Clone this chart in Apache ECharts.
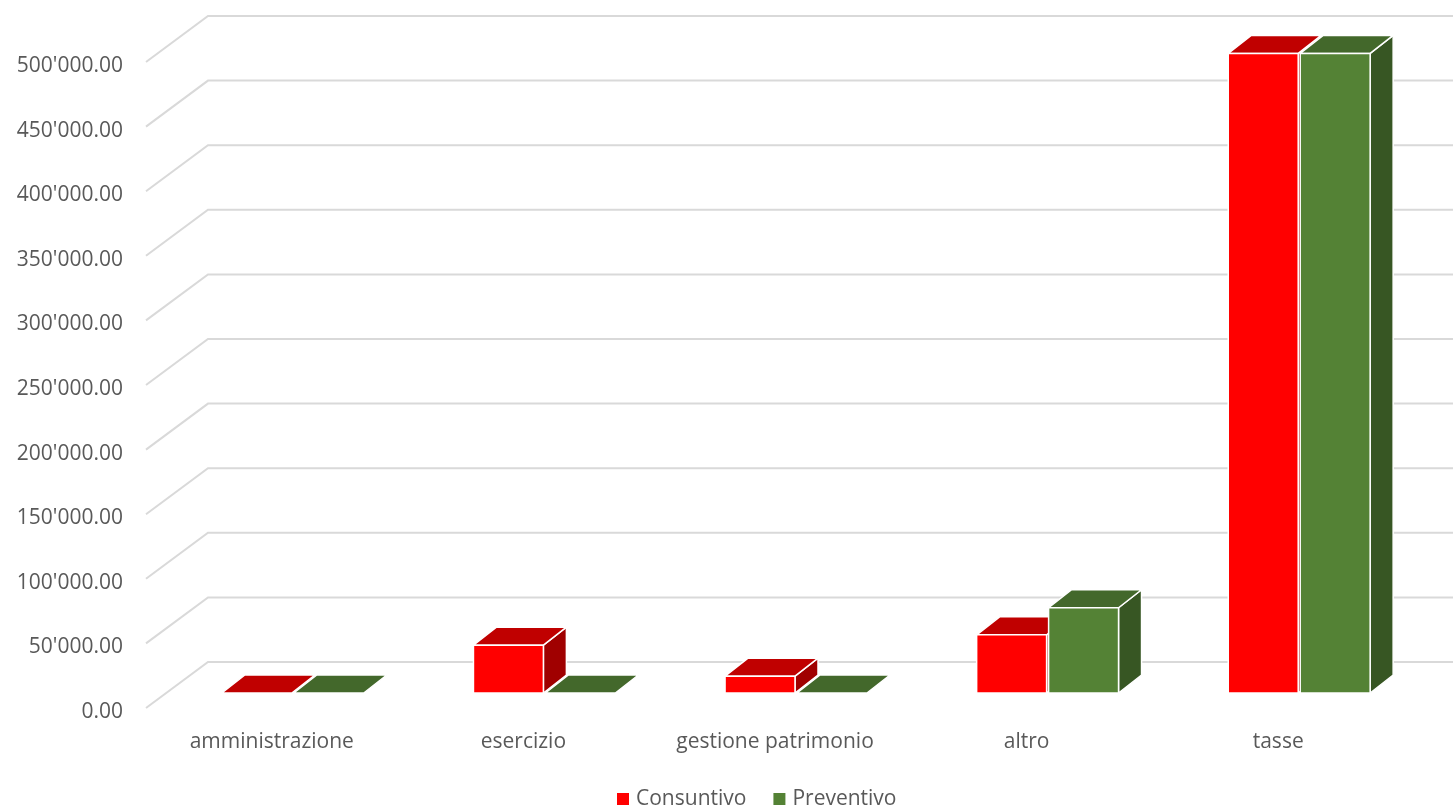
<!DOCTYPE html>
<html>
<head>
<meta charset="utf-8">
<script src="https://cdn.jsdelivr.net/npm/echarts@6/dist/echarts.min.js"></script>
<style>
  html, body { margin: 0; padding: 0; background: #ffffff; }
  #chart { width: 1453px; height: 810px; }
</style>
</head>
<body>
<div id="chart"></div>
<script>
// Categories and values
const categories = ['amministrazione', 'esercizio', 'gestione patrimonio', 'altro', 'tasse'];
const consuntivo = [0, 37000, 13000, 45000, 495000];
const preventivo = [0, 0, 0, 66000, 495000];
const yTicks = [0, 50000, 100000, 150000, 200000, 250000, 300000, 350000, 400000, 450000, 500000];

// Oblique projection settings for the pseudo-3D look
const BACK_DX = 62, BACK_DY = 46;     // front plane -> back wall
const PLANE_DX = 20, PLANE_DY = 15;   // front plane -> front face of the columns
const DEPTH_DX = 23, DEPTH_DY = 18;   // column depth
const BAR_RATIO = 0.278;              // column width as share of a category band

const COLORS = {
  Consuntivo: { front: '#FF0000', top: '#C00000', side: '#A00000' },
  Preventivo: { front: '#548235', top: '#43682B', side: '#375623' }
};

const chart = echarts.init(document.getElementById('chart'), null, { renderer: 'canvas' });

function fmt(v) {
  const parts = Number(v).toFixed(2).split('.');
  parts[0] = parts[0].replace(/\B(?=(\d{3})+(?!\d))/g, "'");
  return parts.join('.');
}

function columnRenderer(slot, palette) {
  return function (params, api) {
    const idx = api.value(0);
    const base = api.coord([idx, 0]);
    const head = api.coord([idx, api.value(1)]);
    const band = api.size([1, 0])[0];
    const w = band * BAR_RATIO;
    const cx = base[0] + PLANE_DX;
    const x0 = slot === 0 ? cx - w : cx + 2;
    const x1 = x0 + w;
    const yb = base[1] - PLANE_DY;
    const yt = head[1] - PLANE_DY;
    const edge = { stroke: '#ffffff', lineWidth: 1.5, lineJoin: 'round' };
    const children = [
      {
        type: 'polygon',
        shape: { points: [[x1, yt], [x1 + DEPTH_DX, yt - DEPTH_DY], [x1 + DEPTH_DX, yb - DEPTH_DY], [x1, yb]] },
        style: Object.assign({ fill: palette.side }, edge)
      },
      {
        type: 'polygon',
        shape: { points: [[x0, yt], [x1, yt], [x1 + DEPTH_DX, yt - DEPTH_DY], [x0 + DEPTH_DX, yt - DEPTH_DY]] },
        style: Object.assign({ fill: palette.top }, edge)
      }
    ];
    if (yb - yt > 0.5) {
      children.push({
        type: 'rect',
        shape: { x: x0, y: yt, width: w, height: yb - yt },
        style: Object.assign({ fill: palette.front }, edge)
      });
    }
    return { type: 'group', children: children };
  };
}

function gridlineRenderer(params, api) {
  const y = api.coord([0, api.value(1)])[1];
  const x = params.coordSys.x;
  return {
    type: 'polyline',
    shape: { points: [[x, y], [x + BACK_DX, y - BACK_DY], [1453, y - BACK_DY]] },
    style: { stroke: '#D9D9D9', lineWidth: 2, fill: null }
  };
}

const option = {
  animation: false,
  backgroundColor: '#ffffff',
  textStyle: { fontFamily: 'Open Sans' },
  grid: { left: 146, right: 49, top: 62, bottom: 102 },
  legend: {
    data: ['Consuntivo', 'Preventivo'],
    left: 617,
    top: 787,
    padding: 0,
    icon: 'rect',
    itemWidth: 12,
    itemHeight: 12,
    itemGap: 27,
    textStyle: { fontFamily: 'Open Sans', fontSize: 21, color: '#595959', lineHeight: 24, padding: [0, 0, 0, 2] }
  },
  xAxis: {
    type: 'category',
    data: categories,
    axisLine: { show: false },
    axisTick: { show: false },
    splitLine: { show: false },
    axisLabel: { interval: 0, fontFamily: 'Open Sans', fontSize: 21, color: '#595959', margin: 22, lineHeight: 24 }
  },
  yAxis: {
    type: 'value',
    min: 0,
    max: 500000,
    interval: 50000,
    axisLine: { show: false },
    axisTick: { show: false },
    splitLine: { show: false },
    axisLabel: {
      fontFamily: 'Open Sans', fontSize: 21, color: '#595959', margin: 23,
      verticalAlign: 'top', lineHeight: 8, formatter: fmt
    }
  },
  series: [
    {
      name: 'gridlines',
      type: 'custom',
      z: 1,
      silent: true,
      renderItem: gridlineRenderer,
      encode: { x: 0, y: 1 },
      data: yTicks.map(function (t) { return [0, t]; })
    },
    {
      name: 'Consuntivo',
      type: 'custom',
      z: 2,
      itemStyle: { color: COLORS.Consuntivo.front },
      renderItem: columnRenderer(0, COLORS.Consuntivo),
      encode: { x: 0, y: 1 },
      data: consuntivo.map(function (v, i) { return [i, v]; })
    },
    {
      name: 'Preventivo',
      type: 'custom',
      z: 3,
      itemStyle: { color: COLORS.Preventivo.front },
      renderItem: columnRenderer(1, COLORS.Preventivo),
      encode: { x: 0, y: 1 },
      data: preventivo.map(function (v, i) { return [i, v]; })
    }
  ]
};

chart.setOption(option);
</script>
</body>
</html>
